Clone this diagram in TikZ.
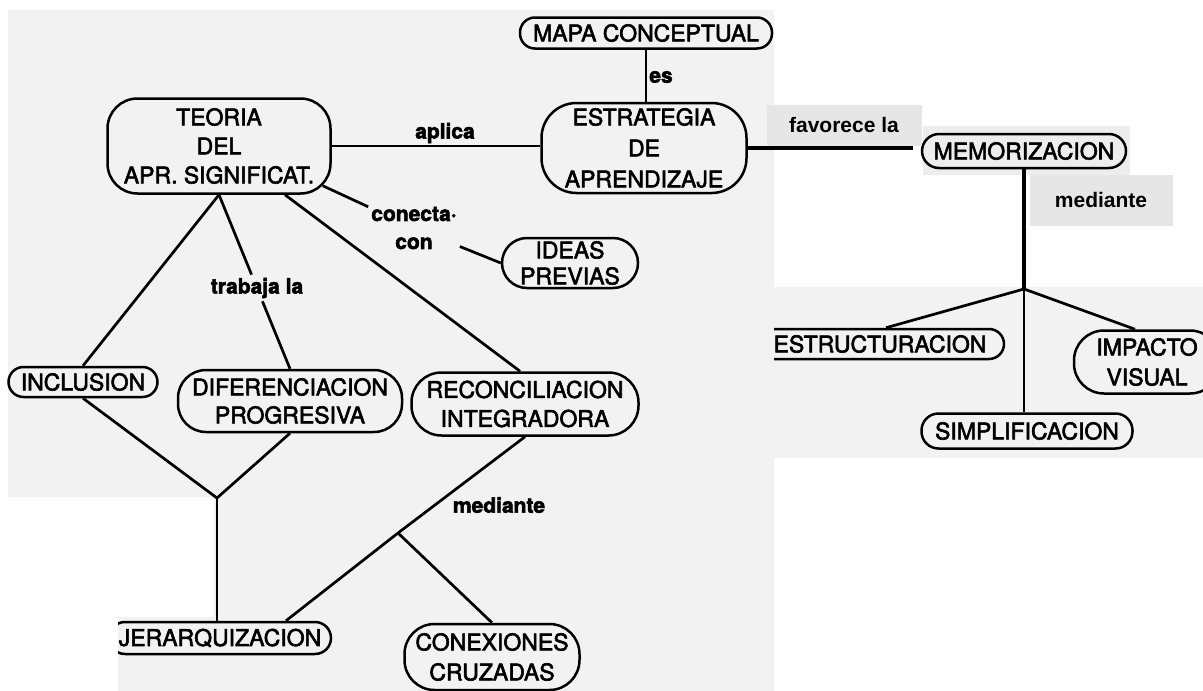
\documentclass[tikz,border=0pt]{standalone}
\usepackage{fontspec}
\setmainfont{TeX Gyre Heros}[RawFeature={embolden=2.5}]
\newfontfamily\boxfont{Liberation Sans}
\usetikzlibrary{positioning,calc}

\begin{document}
\begin{tikzpicture}[x=1pt, y=-1pt,
        every node/.style={font=\fontsize{23}{29}\selectfont, align=center, inner sep=0pt},
        concept/.style={draw, line width=2.5pt, rounded corners=#1},
        concept/.default=15pt,
        linklabel/.style={font=\bfseries\fontsize{21}{28}\selectfont, inner sep=3pt},
        graybox/.style={fill=boxgray, font=\boxfont\bfseries\fontsize{21}{26}\selectfont},
        link/.style={line width=2.7pt},
        heavylink/.style={line width=4pt}]
        \definecolor{scangray}{RGB}{242,242,242}
        \definecolor{memogray}{RGB}{237,237,237}
        \definecolor{boxgray}{RGB}{230,230,230}

        \useasboundingbox (0,0) rectangle (1203,691);

        % Scanned background
        \fill[scangray] (8,10) rectangle (774,691);
        \fill[white] (0,497) rectangle (214,617);
        \fill[white] (0,617) rectangle (118,691);
        \fill[scangray] (774,287) rectangle (1203,458);
        \fill[memogray] (923,126) rectangle (1130,175);

        % Boxes
        \node[concept, minimum width=252pt, minimum height=31pt] (mapa) at (646,33) {MAPA CONCEPTUAL};
        \node[concept=35pt, minimum width=205pt, minimum height=90pt, font=\fontsize{23}{31}\selectfont] (estrategia) at (644,148) {ESTRATEGIA\\DE\\APRENDIZAJE};
        \node[concept=30pt, minimum width=223pt, minimum height=95pt] (teoria) at (219,146) {TEORIA\\DEL\\APR. SIGNIFICAT.};
        \node[concept=25pt, minimum width=136pt, minimum height=50pt, font=\fontsize{23}{26}\selectfont] (ideas) at (570,263) {IDEAS\\PREVIAS};
        \node[concept, minimum width=149pt, minimum height=30pt] (inclusion) at (83,382) {INCLUSION};
        \node[concept=28pt, minimum width=224pt, minimum height=62pt, font=\fontsize{23}{28}\selectfont] (diferenciacion) at (290,401) {DIFERENCIACION\\PROGRESIVA};
        \node[concept=30pt, minimum width=227pt, minimum height=63pt] (reconciliacion) at (525,404) {RECONCILIACION\\INTEGRADORA};
        \begin{scope}
            \clip (118,600) rectangle (400,691);
            \node[concept=16pt, minimum width=222pt, minimum height=32pt] (jerarq) at (220,638) {JERARQUIZACION};
        \end{scope}
        \node[concept=30pt, minimum width=175pt, minimum height=66pt, font=\fontsize{23}{30}\selectfont] (conexiones) at (492,657) {CONEXIONES\\CRUZADAS};
        \node[concept=17pt, minimum width=204pt, minimum height=34pt] (memo) at (1024,151) {MEMORIZACION};
        \begin{scope}
            \clip (774,300) rectangle (1100,400);
            \node[concept, minimum width=248pt, minimum height=30pt] (estruct) at (880,344) {ESTRUCTURACION};
        \end{scope}
        \node[concept=30pt, minimum width=146pt, minimum height=63pt, font=\fontsize{23}{30}\selectfont] (impacto) at (1147,362) {IMPACTO\\VISUAL};
        \node[concept=17pt, minimum width=211pt, minimum height=35pt] (simplif) at (1027,431) {SIMPLIFICACION};

        % Link labels
        \node[linklabel] (es) at (661,77) {es};
        \node[linklabel] (aplica) at (445,133) {aplica};
        \node[linklabel] (conecta) at (414,228) {conecta·\\con};
        \node[linklabel] (trabaja) at (257,288) {trabaja la};
        \node[linklabel] (mediante) at (499,505) {mediante};
        \node[graybox, minimum width=155pt, minimum height=41pt] (favorece) at (844,125) {favorece la};
        \node[graybox, minimum width=143pt, minimum height=51pt] (medbox) at (1101,200) {mediante};

        % Junctions
        \coordinate (vjunc) at (217,498);
        \coordinate (mjunc) at (398,533);
        \coordinate (rjunc) at (1024,289);
        \coordinate (favend) at (913,148);

        % Connectors
        \draw[link] (mapa.south) -- (mapa.south |- estrategia.north);
        \draw[link] (teoria.east) -- (teoria.east -| estrategia.west);
        \draw[link] ($(teoria.south east)+(-9,-9)$) -- (conecta) -- (ideas.west);
        \draw[link] (teoria.south) -- (inclusion.north);
        \draw[link] (teoria.south) -- (trabaja) -- (diferenciacion.north);
        \draw[link] ($(teoria.south)+(66,0)$) -- ($(reconciliacion.north)+(-5,0)$);
        \draw[link] (inclusion.south) -- (vjunc) -- (diferenciacion.south);
        \draw[link] (vjunc) -- (vjunc |- jerarq.north);
        \draw[link] (reconciliacion.south) -- (mjunc) -- ($(jerarq.north)+(66,0)$);
        \draw[link] (mjunc) -- (conexiones.north);
        \draw[heavylink] (estrategia.east) -- (favend);
        \draw[heavylink] (memo.south) -- (rjunc);
        \draw[link] ($(estruct.north)+(6,0)$) -- (rjunc) -- ($(impacto.north)+(-12,0)$);
        \draw[link] (rjunc) -- (rjunc |- simplif.north);
    \end{tikzpicture}
\end{document}
